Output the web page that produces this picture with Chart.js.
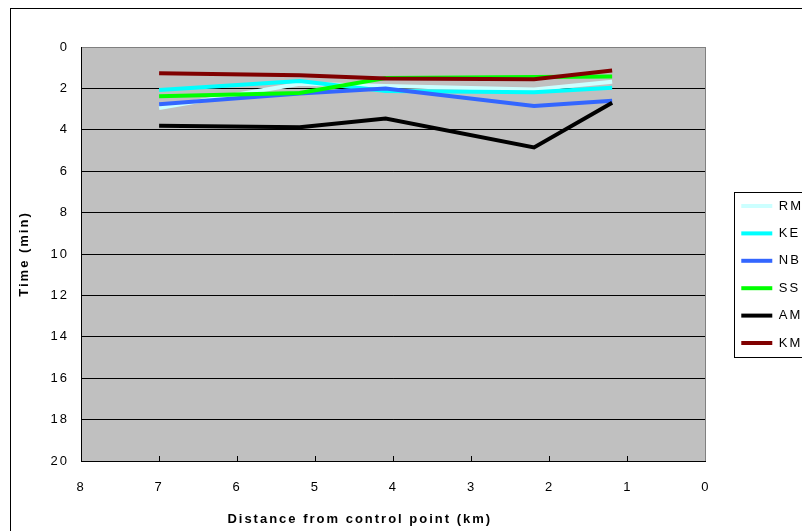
<!DOCTYPE html>
<html>
<head>
<meta charset="utf-8">
<title>Split times</title>
<style>
  html, body { margin: 0; padding: 0; background: #fff; overflow: hidden; }
  #wrap { width: 802px; height: 531px; overflow: hidden; }
  #chart { display: block; }
</style>
</head>
<body>
<div id="wrap"><canvas id="chart" width="830" height="531"></canvas></div>
<script src="https://cdn.jsdelivr.net/npm/chart.js@4.4.0/dist/chart.umd.min.js"></script>
<script>
// data
const distances = [7, 5.2, 4.1, 2.2, 1.2];
const runners = ["RM", "KE", "NB", "SS", "AM", "KM"];
const rmTimes = [2.95, 1.78, 1.88, 2.05, 1.68];
const keTimes = [2.08, 1.64, 2.12, 2.18, 1.97];
const nbTimes = [2.77, 2.25, 2.0, 2.85, 2.6];
const ssTimes = [2.38, 2.22, 1.5, 1.45, 1.43];
const amTimes = [3.8, 3.88, 3.45, 4.85, 2.69];
const kmTimes = [1.27, 1.37, 1.52, 1.56, 1.14];
const xRange = [0, 8];
const yRange = [0, 20];

const seriesTimes = [rmTimes, keTimes, nbTimes, ssTimes, amTimes, kmTimes];
const lineColors = ["#CCFFFF", "#00FFFF", "#3366FF", "#00FF00", "#000000", "#800000"];

const chartElement = document.getElementById("chart");
Chart.defaults.font.family = "'Liberation Sans', Arial, sans-serif";
Chart.defaults.font.size = 13;
Chart.defaults.color = "#000";

// excel-ish frame, grey plot area, legend box
const excelLook = {
  id: "excelLook",
  beforeUpdate(chart) {
    // the original text is stretched wide
    chart.ctx.letterSpacing = "2px";
  },
  afterLayout(chart) {
    // legend sits centred on the whole frame, a bit off the plot
    const lg = chart.legend;
    lg.left = chart.chartArea.right + 21;
    lg.right = lg.left + lg.width;
    lg.top = 8;
    lg.bottom = 541;
  },
  beforeDraw(chart) {
    const { ctx, chartArea } = chart;
    ctx.letterSpacing = "2px";
    ctx.save();
    ctx.fillStyle = "#fff";
    ctx.fillRect(0, 0, chart.width, chart.height);
    ctx.strokeStyle = "#000";
    ctx.lineWidth = 1;
    ctx.strokeRect(10.5, 8.5, chart.width - 20, chart.height + 20);
    ctx.fillStyle = "#C0C0C0";
    ctx.fillRect(chartArea.left, chartArea.top, chartArea.right - chartArea.left, chartArea.bottom - chartArea.top);
    ctx.restore();
  },
  beforeDatasetsDraw(chart) {
    const { ctx, chartArea } = chart;
    ctx.save();
    ctx.strokeStyle = "#808080";
    ctx.lineWidth = 1;
    ctx.beginPath();
    ctx.moveTo(Math.round(chartArea.right) - 0.5, chartArea.top);
    ctx.lineTo(Math.round(chartArea.right) - 0.5, chartArea.bottom);
    ctx.stroke();
    ctx.restore();
  },
  afterDraw(chart) {
    const { ctx } = chart;
    const boxes = chart.legend.legendHitBoxes;
    if (!boxes || !boxes.length) return;
    const first = boxes[0];
    const last = boxes[boxes.length - 1];
    const left = Math.round(chart.legend.left + 7) + 0.5;
    const top = Math.round(first.top - 7.5) + 0.5;
    const bottom = Math.round(last.top + last.height + 7.5) + 0.5;
    ctx.save();
    ctx.strokeStyle = "#000";
    ctx.lineWidth = 1;
    ctx.strokeRect(left, top, 90, bottom - top);
    ctx.restore();
  },
};

new Chart(chartElement, {
  type: "line",
  data: {
    datasets: runners.map((name, i) => ({
      label: name,
      data: distances.map((d, j) => ({ x: d, y: seriesTimes[i][j] })),
      borderColor: lineColors[i],
      backgroundColor: lineColors[i],
      borderWidth: 4,
      pointRadius: 0,
      tension: 0,
      fill: false,
      order: runners.length - i, // later series on top, like excel
    })),
  },
  options: {
    responsive: false,
    animation: false,
    layout: {
      padding: { left: 10, top: 47, right: 38, bottom: 0 },
    },
    scales: {
      x: {
        type: "linear",
        reverse: true,
        min: xRange[0],
        max: xRange[1],
        ticks: { stepSize: 1, padding: 24 },
        grid: {
          display: true,
          drawOnChartArea: false,
          drawTicks: true,
          tickLength: -5,
          color: "#000",
        },
        border: { display: true, color: "#000", width: 1 },
        title: {
          display: true,
          text: "Distance from control point (km)" + " ".repeat(12),
          font: { weight: "bold", size: 13 },
          padding: { top: 0, bottom: 4 },
        },
        afterFit: function (scale) {
          scale.height = 70;
        },
      },
      y: {
        reverse: true,
        min: yRange[0],
        max: yRange[1],
        ticks: { stepSize: 2, padding: 12 },
        grid: {
          drawTicks: false,
          color: (ctx) => (ctx.tick && ctx.tick.value === 0 ? "#808080" : "#000"),
        },
        border: { display: true, color: "#000", width: 1 },
        title: {
          display: true,
          text: "Time (min)",
          font: { weight: "bold", size: 13 },
          padding: { top: 7, bottom: 0 },
        },
        afterFit: function (scale) {
          scale.width = 71;
        },
      },
    },
    plugins: {
      tooltip: { enabled: false },
      legend: {
        position: "right",
        labels: {
          boxWidth: 31,
          boxHeight: 4,
          padding: 14.4,
          font: { size: 13 },
          color: "#000",
          generateLabels: function (chart) {
            return chart.data.datasets.map((ds, i) => ({
              text: ds.label,
              fillStyle: ds.borderColor,
              strokeStyle: ds.borderColor,
              lineWidth: 0,
              hidden: false,
              datasetIndex: i,
            }));
          },
        },
      },
    },
  },
  plugins: [excelLook],
});
</script>
</body>
</html>
